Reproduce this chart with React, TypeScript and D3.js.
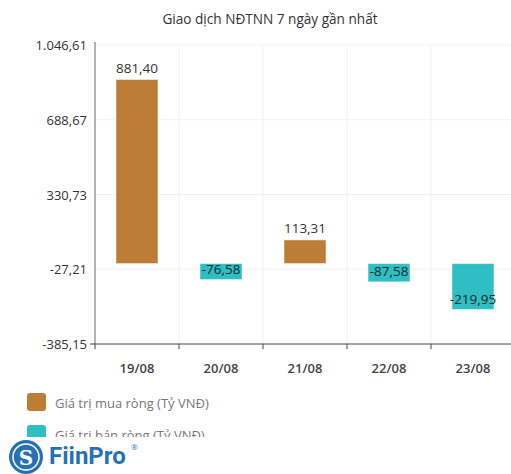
import React, { useEffect, useRef } from "react";
import * as d3 from "d3";

const dates = ["19/08", "20/08", "21/08", "22/08", "23/08"];
const netValues = [881.4, -76.58, 113.31, -87.58, -219.95];
const yTicks = [-385.15, -27.21, 330.73, 688.67, 1046.61];
const legendLabels = ["Giá trị mua ròng (Tỷ VNĐ)", "Giá trị bán ròng (Tỷ VNĐ)"];
const legendColors = ["#BE7D34", "#2EBEC3"];

const W = 511;
const H = 474;
const FONT = "'Open Sans', 'Noto Sans', sans-serif";

const vn = d3.formatLocale({ decimal: ",", thousands: ".", grouping: [3], currency: ["", ""], minus: "-" });
const fmt = vn.format(",.2f");

export default function App() {
  const ref = useRef<SVGSVGElement>(null);

  useEffect(() => {
    const svg = d3.select(ref.current);
    svg.selectAll("*").remove();

    const margin = { top: 45, left: 95, bottom: 344 };
    const x = d3.scaleBand().domain(dates).range([margin.left, margin.left + 84 * dates.length]).padding(0);
    const y = d3.scaleLinear().domain([yTicks[0], yTicks[yTicks.length - 1]]).range([margin.bottom, margin.top]);

    // title
    svg.append("text")
      .attr("x", 270).attr("y", 18)
      .attr("text-anchor", "middle").attr("dominant-baseline", "central")
      .style("font-family", FONT).style("font-size", "13.6px").style("fill", "#333")
      .text("Giao dịch NĐTNN 7 ngày gần nhất");

    // grid
    svg.append("g").selectAll("line").data(yTicks.slice(1)).enter().append("line")
      .attr("x1", margin.left).attr("x2", W)
      .attr("y1", d => y(d)).attr("y2", d => y(d))
      .attr("stroke", "#f1f1f1");
    svg.append("g").selectAll("line").data(dates.slice(1)).enter().append("line")
      .attr("x1", d => x(d)!).attr("x2", d => x(d)!)
      .attr("y1", margin.top).attr("y2", margin.bottom)
      .attr("stroke", "#f1f1f1");

    // y labels
    svg.append("g").selectAll("text").data(yTicks).enter().append("text")
      .attr("x", 87).attr("y", d => y(d))
      .attr("text-anchor", "end").attr("dominant-baseline", "central")
      .style("font-family", FONT).style("font-size", "13px").style("fill", "#333")
      .text(d => fmt(d));

    // bars
    const y0 = y(0);
    svg.append("g").selectAll("rect").data(netValues).enter().append("rect")
      .attr("x", (d, i) => x(dates[i])! + x.bandwidth() / 4)
      .attr("width", x.bandwidth() / 2)
      .attr("y", d => Math.min(y(d), y0))
      .attr("height", d => Math.abs(y(d) - y0))
      .attr("fill", d => (d >= 0 ? legendColors[0] : legendColors[1]))
      .attr("stroke", "#fff").attr("stroke-opacity", 0.5).attr("stroke-width", 1);

    // value labels
    svg.append("g").selectAll("text").data(netValues).enter().append("text")
      .attr("x", (d, i) => x(dates[i])! + x.bandwidth() / 2)
      .attr("y", d => (d >= 0 ? y(d) - 12 : y(d) - 11))
      .attr("text-anchor", "middle").attr("dominant-baseline", "central")
      .style("font-family", FONT).style("font-size", "13.5px")
      .style("fill", d => (d >= 0 ? "#333" : "#1d2b2b"))
      .text(d => fmt(d));

    // axes
    svg.append("line")
      .attr("x1", margin.left).attr("x2", margin.left)
      .attr("y1", margin.top - 3).attr("y2", margin.bottom)
      .attr("stroke", "#666").attr("stroke-width", 1);
    svg.append("line")
      .attr("x1", margin.left - 5).attr("x2", W)
      .attr("y1", margin.bottom).attr("y2", margin.bottom)
      .attr("stroke", "#444").attr("stroke-width", 1);
    svg.append("g").selectAll("line").data(dates).enter().append("line")
      .attr("x1", d => x(d)!).attr("x2", d => x(d)!)
      .attr("y1", margin.bottom).attr("y2", margin.bottom + 5)
      .attr("stroke", "#444");
    svg.append("g").selectAll("text").data(dates).enter().append("text")
      .attr("x", d => x(d)! + x.bandwidth() / 2).attr("y", 368)
      .attr("text-anchor", "middle").attr("dominant-baseline", "central")
      .style("font-family", FONT).style("font-size", "13px").style("font-weight", 600).style("fill", "#444")
      .text(d => d);

    // legend (second row is partly hidden under the logo strip)
    svg.append("clipPath").attr("id", "legendClip")
      .append("rect").attr("x", 0).attr("y", 380).attr("width", W).attr("height", 57);
    const lg = svg.append("g").attr("clip-path", "url(#legendClip)")
      .selectAll("g").data(legendLabels).enter().append("g")
      .attr("transform", (d, i) => `translate(27,${393 + i * 32})`);
    lg.append("rect").attr("width", 19).attr("height", 18).attr("rx", 3)
      .attr("fill", (d, i) => legendColors[i]);
    lg.append("text").attr("x", 28).attr("y", 10)
      .attr("dominant-baseline", "central")
      .style("font-family", FONT).style("font-size", "13px").style("fill", "#777")
      .text(d => d);

    // logo
    const logo = svg.append("g");
    logo.append("circle").attr("cx", 26).attr("cy", 457).attr("r", 17).attr("fill", "#2671B4");
    logo.append("circle").attr("cx", 26).attr("cy", 457).attr("r", 13).attr("fill", "none").attr("stroke", "#fff").attr("stroke-width", 1.5);
    logo.append("text").attr("x", 26).attr("y", 458)
      .attr("text-anchor", "middle").attr("dominant-baseline", "central")
      .style("font-family", "'DejaVu Serif', serif").style("font-size", "20px").style("font-weight", 700).style("fill", "#fff")
      .text("S");
    logo.append("text").attr("x", 49).attr("y", 456)
      .attr("dominant-baseline", "central")
      .style("font-family", "Roboto, 'Noto Sans', sans-serif").style("font-size", "24px").style("font-weight", 700).style("fill", "#2671B4")
      .text("FiinPro");
    logo.append("text").attr("x", 131).attr("y", 450)
      .style("font-family", FONT).style("font-size", "8px").style("fill", "#2671B4")
      .text("®");
  }, []);

  return (
    <svg ref={ref} width={W} height={H} style={{ position: "absolute", left: 0, top: 0, background: "#fff" }} />
  );
}
